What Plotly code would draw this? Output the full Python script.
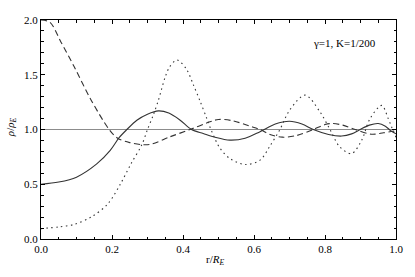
import plotly.graph_objects as go

# ---- data ----
r_solid = [0, 0.05, 0.10, 0.157, 0.195, 0.22, 0.242, 0.27, 0.30, 0.331, 0.36, 0.392,
           0.424, 0.457, 0.49, 0.532, 0.575, 0.617, 0.66, 0.70, 0.735, 0.767, 0.81,
           0.847, 0.875, 0.899, 0.925, 0.95, 0.97, 0.985, 1.0]
v_solid = [0.50, 0.52, 0.565, 0.686, 0.81, 0.925, 1.0, 1.085, 1.14, 1.17, 1.15, 1.085,
           1.0, 0.964, 0.93, 0.903, 0.92, 0.98, 1.05, 1.075, 1.05, 1.0, 0.955,
           0.94, 0.96, 1.0, 1.04, 1.055, 1.03, 0.99, 0.96]

r_dashed = [0, 0.025, 0.056, 0.094, 0.141, 0.192, 0.216, 0.25, 0.284, 0.31, 0.363,
            0.42, 0.476, 0.50, 0.54, 0.589, 0.617, 0.645, 0.68, 0.72, 0.767, 0.80,
            0.819, 0.85, 0.885, 0.931, 0.965, 1.0]
v_dashed = [2.0, 1.98, 1.80, 1.57, 1.27, 1.0, 0.92, 0.88, 0.862, 0.866, 0.933,
            1.0, 1.07, 1.092, 1.08, 1.03, 1.0, 0.955, 0.93, 0.945, 1.0, 1.045,
            1.055, 1.04, 1.0, 0.957, 0.97, 0.99]

r_dotted = [0, 0.05, 0.094, 0.141, 0.188, 0.225, 0.254, 0.284, 0.30, 0.316, 0.33,
            0.35, 0.362, 0.383, 0.41, 0.429, 0.448, 0.467, 0.48, 0.504, 0.532, 0.575,
            0.617, 0.645, 0.673, 0.701, 0.744, 0.786, 0.814, 0.842, 0.875, 0.903,
            0.927, 0.96, 0.978, 0.988, 1.0]
v_dotted = [0.095, 0.11, 0.134, 0.20, 0.32, 0.51, 0.69, 0.86, 1.0, 1.13, 1.26,
            1.48, 1.57, 1.635, 1.55, 1.41, 1.26, 1.10, 0.99, 0.83, 0.735, 0.68,
            0.72, 0.85, 1.0, 1.18, 1.314, 1.16, 1.0, 0.84, 0.78, 0.90,
            1.10, 1.22, 1.10, 1.02, 0.93]

ref_r = [0, 1]
ref_v = [1, 1]

x_ticks = [0.0, 0.2, 0.4, 0.6, 0.8, 1.0]
y_ticks = [0.0, 0.5, 1.0, 1.5, 2.0]

FONT = "Liberation Serif"
CURVE = "#333333"

fig = go.Figure()
fig.add_trace(go.Scatter(x=ref_r, y=ref_v, mode="lines",
                         line=dict(color="#8c8c8c", width=1), hoverinfo="skip"))
fig.add_trace(go.Scatter(x=r_solid, y=v_solid, mode="lines",
                         line=dict(color=CURVE, width=1.1, shape="spline", smoothing=0.9)))
fig.add_trace(go.Scatter(x=r_dashed, y=v_dashed, mode="lines",
                         line=dict(color=CURVE, width=1.1, shape="spline", smoothing=0.9,
                                   dash="6px,3.5px")))
fig.add_trace(go.Scatter(x=r_dotted, y=v_dotted, mode="lines",
                         line=dict(color=CURVE, width=1.1, shape="spline", smoothing=0.9,
                                   dash="1.5px,3.5px")))

axis_common = dict(showgrid=False, zeroline=False, showline=True, linecolor="black",
                   linewidth=1, mirror="ticks", ticks="inside", ticklen=4,
                   tickcolor="black", tickwidth=1,
                   tickfont=dict(family=FONT, size=11, color="black"))

fig.update_xaxes(range=[0, 1], tickvals=x_ticks, ticktext=[f"{t:.1f}" for t in x_ticks],
                 minor=dict(dtick=0.05, ticks="inside", ticklen=2.5, tickcolor="black",
                            showgrid=False),
                 **axis_common)
fig.update_yaxes(range=[0, 2], tickvals=y_ticks, ticktext=[f"{t:.1f}" for t in y_ticks],
                 minor=dict(dtick=0.1, ticks="inside", ticklen=2.5, tickcolor="black",
                            showgrid=False),
                 **axis_common)

fig.update_layout(
    width=415, height=277,
    margin=dict(l=41, r=19, t=20, b=38, pad=0),
    paper_bgcolor="white", plot_bgcolor="white",
    showlegend=False,
    annotations=[
        dict(text="γ=1, K=1/200", x=0.95, y=1.79, xref="x", yref="y",
             xanchor="right", yanchor="middle", showarrow=False,
             font=dict(family=FONT, size=11, color="black")),
        dict(text="r/<i>R</i><sub><i>E</i></sub>", x=0.49, y=-0.097, xref="paper",
             yref="paper", xanchor="center", yanchor="middle", showarrow=False,
             font=dict(family=FONT, size=11, color="black")),
        dict(text="<i>ρ</i>/<i>ρ</i><sub><i>E</i></sub>", x=-0.085, y=0.51, xref="paper",
             yref="paper", xanchor="center", yanchor="middle", showarrow=False,
             textangle=-90, font=dict(family=FONT, size=11, color="black")),
    ],
)

fig.write_html("out.html",
               config={"displayModeBar": False},
               post_script="document.body.style.margin='0';document.body.style.overflow='hidden';")
